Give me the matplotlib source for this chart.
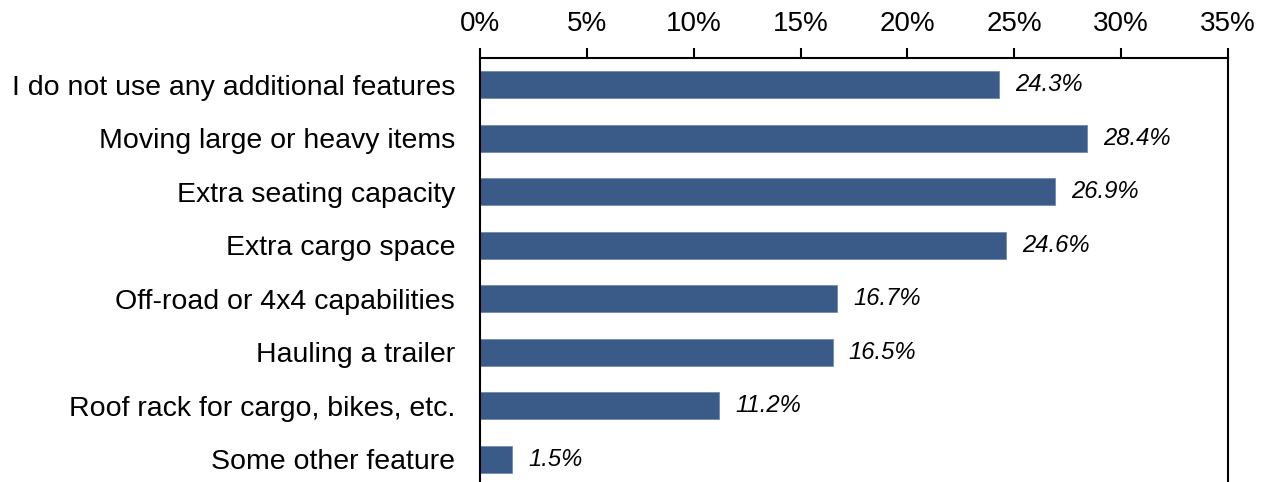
import matplotlib
matplotlib.use("Agg")
import matplotlib.pyplot as plt
from matplotlib.ticker import FuncFormatter

plt.rcParams["font.family"] = ["Liberation Sans", "DejaVu Sans"]

features = [
    "I do not use any additional features",
    "Moving large or heavy items",
    "Extra seating capacity",
    "Extra cargo space",
    "Off-road or 4x4 capabilities",
    "Hauling a trailer",
    "Roof rack for cargo, bikes, etc.",
    "Some other feature",
]
shares = [24.3, 28.4, 26.9, 24.6, 16.7, 16.5, 11.2, 1.5]
ticks = [0, 5, 10, 15, 20, 25, 30, 35]

BAR_COLOR = "#3A5A88"

fig = plt.figure(figsize=(12.67, 4.82), dpi=100)
# plot area runs past the bottom edge so the last row is clipped like a table
ax = fig.add_axes([480 / 1267, -4 / 482, 748 / 1267, (482 - 58 + 4) / 482])

ypos = list(range(len(features)))
ax.barh(ypos, shares, height=0.5, color=BAR_COLOR, edgecolor="#6F8AB0", linewidth=0.6)
ax.set_ylim(len(features) - 0.5, -0.5)
ax.set_xlim(0, 35)
ax.set_yticks(ypos)
ax.set_yticklabels(features, fontsize=20.5)
ax.tick_params(axis="y", length=0, pad=18)

ax.xaxis.tick_top()
ax.set_xticks(ticks)
ax.xaxis.set_major_formatter(FuncFormatter(lambda v, _: f"{v:.0f}%"))
ax.tick_params(axis="x", direction="out", length=7, width=1.5, labelsize=20, pad=8)

for s in ("left", "right", "top"):
    ax.spines[s].set_linewidth(1.5)
ax.spines["bottom"].set_visible(False)

for y, v in zip(ypos, shares):
    ax.text(v + 0.75, y, f"{v:.1f}%", va="center", ha="left",
            fontsize=17.2, style="italic", color="#000000")

fig.savefig("out.png", dpi=100)
